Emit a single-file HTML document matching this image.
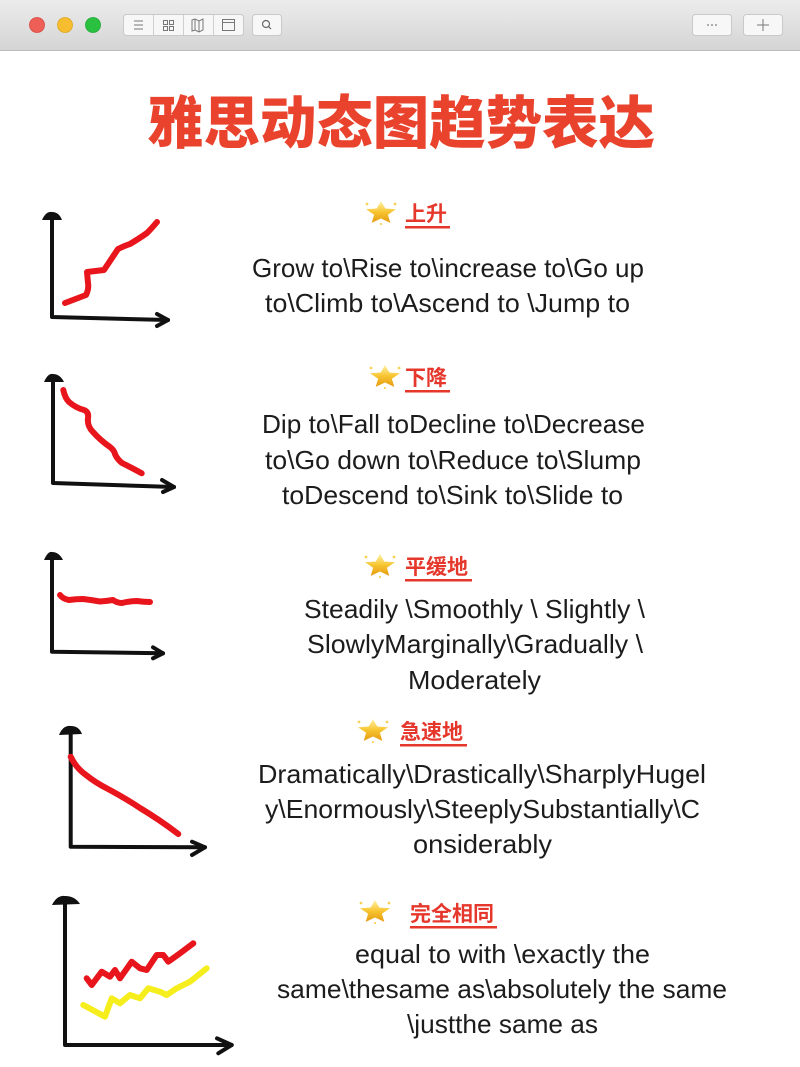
<!DOCTYPE html>
<html>
<head>
<meta charset="utf-8">
<style>
html,body{margin:0;padding:0;background:#fff;}
body{width:800px;height:1067px;overflow:hidden;}
svg{display:block;}
.t{font-family:"Liberation Sans","Noto Sans CJK SC",sans-serif;font-size:26px;fill:#1c1c1c;}
.h{font-family:"Liberation Sans","Noto Sans CJK SC",sans-serif;font-size:21px;font-weight:bold;fill:#e5372b;}
.ax{fill:none;stroke:#111;stroke-width:4;stroke-linecap:round;stroke-linejoin:round;}
.rd{fill:none;stroke:#e8161c;stroke-width:6;stroke-linecap:round;stroke-linejoin:round;}
.yl{fill:none;stroke:#f6ee1c;stroke-width:6;stroke-linecap:round;stroke-linejoin:round;}
</style>
</head>
<body>
<svg width="800" height="1067" viewBox="0 0 800 1067" xmlns="http://www.w3.org/2000/svg">
<defs>
<linearGradient id="tb" x1="0" y1="0" x2="0" y2="1">
<stop offset="0" stop-color="#ececec"/>
<stop offset="1" stop-color="#d4d4d4"/>
</linearGradient>
<linearGradient id="st" x1="0" y1="0" x2="0" y2="1">
<stop offset="0" stop-color="#fff3a8"/>
<stop offset="0.5" stop-color="#f7c531"/>
<stop offset="1" stop-color="#e59a10"/>
</linearGradient>
<g id="star">
<polygon points="0,-12 4.3,-4.5 15,-3.7 6.9,1.8 9.3,9.9 0,5.5 -9.3,9.9 -6.9,1.8 -15,-3.7 -4.3,-4.5" fill="url(#st)"/>
<circle cx="-14" cy="-9" r="1.4" fill="#f7d35a"/>
<circle cx="14" cy="-9" r="1.4" fill="#f7d35a"/>
<circle cx="0" cy="11" r="1.1" fill="#f7d35a"/>
</g>
</defs>

<!-- toolbar -->
<rect x="0" y="0" width="800" height="51" fill="url(#tb)"/>
<rect x="0" y="50" width="800" height="1" fill="#bcbcbc"/>
<circle cx="37" cy="25" r="7.5" fill="#ee5f57" stroke="#d8473f" stroke-width="0.8"/>
<circle cx="65" cy="25" r="7.5" fill="#f6bd2f" stroke="#dda422" stroke-width="0.8"/>
<circle cx="93" cy="25" r="7.5" fill="#29c13f" stroke="#1ea733" stroke-width="0.8"/>
<rect x="123.5" y="14.5" width="120" height="21" rx="3" fill="#f7f7f7" stroke="#c9c9c9"/>
<line x1="153.5" y1="15" x2="153.5" y2="35" stroke="#d0d0d0"/>
<line x1="183.5" y1="15" x2="183.5" y2="35" stroke="#d0d0d0"/>
<line x1="213.5" y1="15" x2="213.5" y2="35" stroke="#d0d0d0"/>
<g stroke="#777" stroke-width="1" fill="none">
<line x1="134" y1="21" x2="143" y2="21"/><line x1="134" y1="25" x2="143" y2="25"/><line x1="134" y1="29" x2="143" y2="29"/>
<rect x="163.5" y="20.5" width="4" height="4"/><rect x="169.5" y="20.5" width="4" height="4"/><rect x="163.5" y="26.5" width="4" height="4"/><rect x="169.5" y="26.5" width="4" height="4"/>
<path d="M192 20 L195 19 L199 21 L203 19 L203 30 L199 32 L195 30 L192 31 Z M195 19 V30 M199 21 V32"/>
<rect x="222.5" y="19.5" width="12" height="11"/><line x1="222.5" y1="22.5" x2="234.5" y2="22.5"/>
</g>
<rect x="252.5" y="14.5" width="29" height="21" rx="3" fill="#f7f7f7" stroke="#c9c9c9"/>
<circle cx="266" cy="24" r="3.5" fill="none" stroke="#666" stroke-width="1.2"/>
<line x1="268.5" y1="26.5" x2="271" y2="29" stroke="#666" stroke-width="1.2"/>
<rect x="692.5" y="14.5" width="39" height="21" rx="3" fill="#f7f7f7" stroke="#c9c9c9"/>
<circle cx="708" cy="25" r="0.9" fill="#777"/><circle cx="712" cy="25" r="0.9" fill="#777"/><circle cx="716" cy="25" r="0.9" fill="#777"/>
<rect x="743.5" y="14.5" width="39" height="21" rx="3" fill="#f7f7f7" stroke="#c9c9c9"/>
<line x1="763" y1="19" x2="763" y2="31" stroke="#777" stroke-width="1"/>
<line x1="757" y1="25" x2="769" y2="25" stroke="#777" stroke-width="1"/>

<!-- title -->
<text x="401" y="143" text-anchor="middle" font-family="'Noto Sans CJK SC','WenQuanYi Zen Hei',sans-serif" font-size="57" font-weight="900" fill="#e9432e" textLength="508" lengthAdjust="spacingAndGlyphs">雅思动态图趋势表达</text>

<!-- chart 1 -->
<path class="ax" d="M52 216 L52 317 L168 320"/>
<path class="ax" d="M157 314 L168 320 L157 326"/>
<path d="M42 220 Q46 211 52 212 Q59 212 62 220 Z" fill="#111"/>
<path class="rd" d="M65 303 L86 295 Q89 289 88 283 L87 272 L104 270 Q112 258 118 249 Q124 246 130 244 Q140 238 147 233 Q152 228 157 222"/>

<!-- chart 2 -->
<path class="ax" d="M53 378 L53 483 L174 487"/>
<path class="ax" d="M162 480 L174 487 L163 492"/>
<path d="M44 382 Q48 373 53 374 Q60 374 64 382 Z" fill="#111"/>
<path class="rd" d="M63.3 390 Q65 398 69 402 Q76 408 84 410 Q89 412 88 418 Q87 426 93 432 Q100 440 110 447 Q114 450 115 454 Q117 459 122 463 Q132 468 141.7 473.3"/>

<!-- chart 3 -->
<path class="ax" d="M52 556 L52 651.7 L163 653.3"/>
<path class="ax" d="M153 647.3 L163 653.3 L153 658.3"/>
<path d="M44 560 Q48 551 52 552 Q59 552 63 560 Z" fill="#111"/>
<path class="rd" d="M60 595 Q63 599 69 600 Q76 599 83 599 Q92 600 100 601.5 Q107 601 113 600 Q117 603 122 603 Q130 601 137 601 Q144 602 150 602"/>

<!-- chart 4 -->
<path class="ax" d="M70.7 731 L70.7 846.7 L205 847.3"/>
<path class="ax" d="M192 841.7 L205 847.3 L192 855"/>
<path d="M59 735 Q63 725 71 726 Q79 726 82 734 Z" fill="#111"/>
<path class="rd" d="M70.7 756.7 Q76 768 86 775 Q96 783 108 789 Q125 798 140 808 Q160 820 178.3 834"/>

<!-- chart 5 -->
<path class="ax" d="M65 901 L65 1045 L231.7 1045"/>
<path class="ax" d="M217 1038.3 L231.7 1045 L218.3 1053.3"/>
<path d="M52 905 Q57 895 65 896 Q75 896 80 904 Z" fill="#111"/>
<polyline class="rd" points="86.7,978.3 91.7,985 101.7,971.7 110,976.7 115,970 120,978.3 131.7,961.7 140,968.3 146.7,970 156.7,955 163.3,955 168.3,961.7 180,953.3 193.3,943.3"/>
<polyline class="yl" points="83.3,1005 105,1016.7 111.7,998.3 120,1003.3 130,995 140,998.3 148.3,988.3 160,991.7 166.7,995 176.7,988.3 190,981.7 206.7,968.3"/>

<!-- headings -->
<use href="#star" x="381" y="213"/>
<text class="h" x="405" y="221">上升</text>
<rect x="405" y="226" width="45" height="2.5" fill="#e5372b"/>

<use href="#star" x="385" y="377"/>
<text class="h" x="405" y="385">下降</text>
<rect x="405" y="390" width="45" height="2.5" fill="#e5372b"/>

<use href="#star" x="380" y="566"/>
<text class="h" x="405" y="574">平缓地</text>
<rect x="405" y="579" width="67" height="2.5" fill="#e5372b"/>

<use href="#star" x="373" y="731"/>
<text class="h" x="400" y="739">急速地</text>
<rect x="400" y="744" width="67" height="2.5" fill="#e5372b"/>

<use href="#star" x="375" y="912"/>
<text class="h" x="410" y="921">完全相同</text>
<rect x="410" y="926" width="87" height="2.5" fill="#e5372b"/>

<!-- body text -->
<text class="t" x="252" y="277" textLength="392" lengthAdjust="spacingAndGlyphs">Grow to\Rise to\increase to\Go up</text>
<text class="t" x="265" y="312" textLength="365" lengthAdjust="spacingAndGlyphs">to\Climb to\Ascend to \Jump to</text>

<text class="t" x="262" y="433" textLength="383" lengthAdjust="spacingAndGlyphs">Dip to\Fall toDecline to\Decrease</text>
<text class="t" x="265" y="469" textLength="376" lengthAdjust="spacingAndGlyphs">to\Go down to\Reduce to\Slump</text>
<text class="t" x="282" y="504" textLength="341" lengthAdjust="spacingAndGlyphs">toDescend to\Sink to\Slide to</text>

<text class="t" x="304" y="618" textLength="341" lengthAdjust="spacingAndGlyphs">Steadily \Smoothly \ Slightly \</text>
<text class="t" x="307" y="653" textLength="336" lengthAdjust="spacingAndGlyphs">SlowlyMarginally\Gradually \</text>
<text class="t" x="408" y="689" textLength="133" lengthAdjust="spacingAndGlyphs">Moderately</text>

<text class="t" x="258" y="783" textLength="448" lengthAdjust="spacingAndGlyphs">Dramatically\Drastically\SharplyHugel</text>
<text class="t" x="265" y="818" textLength="435" lengthAdjust="spacingAndGlyphs">y\Enormously\SteeplySubstantially\C</text>
<text class="t" x="413" y="853" textLength="139" lengthAdjust="spacingAndGlyphs">onsiderably</text>

<text class="t" x="355" y="963" textLength="295" lengthAdjust="spacingAndGlyphs">equal to with \exactly the</text>
<text class="t" x="277" y="998" textLength="450" lengthAdjust="spacingAndGlyphs">same\thesame as\absolutely the same</text>
<text class="t" x="407" y="1033" textLength="191" lengthAdjust="spacingAndGlyphs">\justthe same as</text>
</svg>
</body>
</html>
